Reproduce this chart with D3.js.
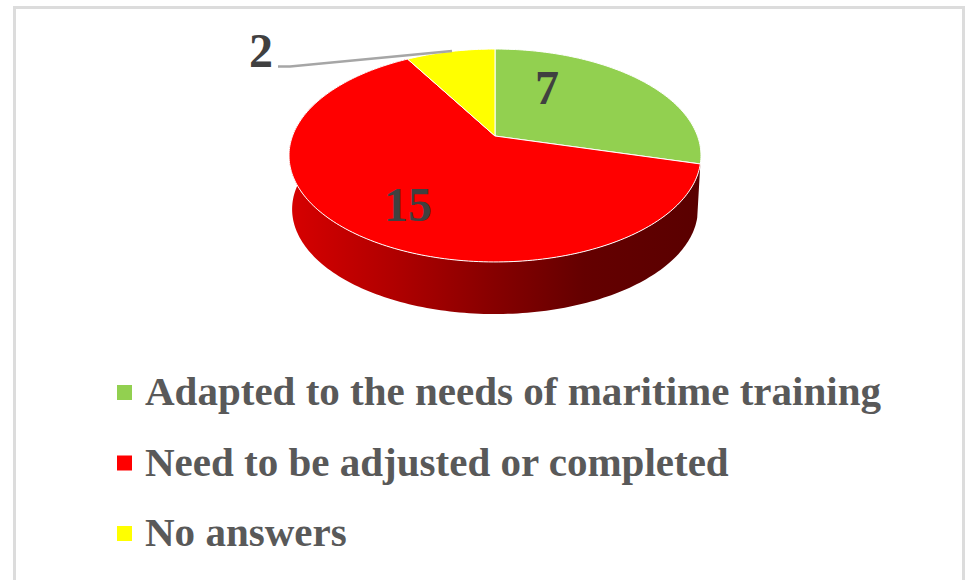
<!DOCTYPE html>
<html>
<head>
<meta charset="utf-8">
<script src="https://cdn.jsdelivr.net/npm/d3@7"></script>
<style>
  html, body { margin: 0; padding: 0; background: #fff; }
  svg { display: block; }
  text { font-family: "Liberation Serif", serif; font-weight: bold; }
</style>
</head>
<body>
<div id="chart"></div>
<script>
// Data
const categories = [
  "Adapted to the needs of maritime training",
  "Need to be adjusted or completed",
  "No answers",
];
const values = [7, 15, 2];
const colors = ["#92d050", "#ff0000", "#ffff00"];

const svgWidth = 965;
const svgHeight = 580;

// Pie in perspective: apex is not at the middle of the ellipse
const cx = 495;
const cy = 136;
const radiusX = 202.5;
const radiusY = 102.9;
const tilt = 0.183;
const depth = 54;
const bottomScale = 0.985;

const svg = d3
  .select("#chart")
  .append("svg")
  .attr("width", svgWidth)
  .attr("height", svgHeight);

// Frame, cut off by the bottom of the picture
svg
  .append("path")
  .attr("d", "M14.5,580V7.5H963.5V580")
  .attr("fill", "none")
  .attr("stroke", "#dcdcdc")
  .attr("stroke-width", 3);

// Angle clockwise from 12 o'clock -> point on the top face
function project(angle, r = 1) {
  const u = r * Math.sin(angle);
  const v = -r * Math.cos(angle);
  const w = 1 - tilt * v;
  return [cx + (radiusX * u) / w, cy + (radiusY * v) / w];
}

// Same angle on the lower rim
function projectBottom(angle) {
  const [x, y] = project(angle);
  return [cx + (x - cx) * bottomScale, cy + (y - cy) * bottomScale + depth];
}

function rim(a0, a1, fn) {
  const steps = Math.max(2, Math.ceil(Math.abs(a1 - a0) / 0.02));
  return d3.range(steps + 1).map((i) => fn(a0 + ((a1 - a0) * i) / steps));
}

const pie = d3.pie().sort(null);
const slices = pie(values);
const line = d3.line();

// Side wall gradient
const grad = svg
  .append("defs")
  .append("linearGradient")
  .attr("id", "wall")
  .attr("gradientUnits", "userSpaceOnUse")
  .attr("x1", cx - radiusX)
  .attr("x2", cx + radiusX)
  .attr("y1", 0)
  .attr("y2", 0);
grad.append("stop").attr("offset", "0").attr("stop-color", "#d60000");
grad.append("stop").attr("offset", "0.25").attr("stop-color", "#b00000");
grad.append("stop").attr("offset", "0.5").attr("stop-color", "#860000");
grad.append("stop").attr("offset", "0.72").attr("stop-color", "#640000");
grad.append("stop").attr("offset", "1").attr("stop-color", "#5a0000");

// Wall only for the slice that faces the viewer
svg
  .selectAll(".wall")
  .data(slices.filter((d) => Math.cos((d.startAngle + d.endAngle) / 2) < 0))
  .enter()
  .append("path")
  .attr("class", "wall")
  .attr("fill", "url(#wall)")
  .attr("d", (d) =>
    line(
      rim(d.startAngle, d.endAngle, project).concat(
        rim(d.endAngle, d.startAngle, projectBottom)
      )
    ) + "Z"
  );

// Top face
svg
  .selectAll(".slice")
  .data(slices)
  .enter()
  .append("path")
  .attr("class", "slice")
  .attr("fill", (d, i) => colors[i])
  .attr("stroke", "#fff")
  .attr("stroke-width", 1)
  .attr("stroke-linejoin", "round")
  .attr("d", (d) =>
    line([[cx, cy]].concat(rim(d.startAngle, d.endAngle, project))) + "Z"
  );

// Data labels
const labelPos = [
  [547, 104],
  [408, 221],
  [261, 67],
];

svg
  .selectAll(".label")
  .data(values)
  .enter()
  .append("text")
  .attr("class", "label")
  .attr("x", (d, i) => labelPos[i][0])
  .attr("y", (d, i) => labelPos[i][1])
  .attr("text-anchor", "middle")
  .attr("font-size", 48)
  .attr("fill", "#404040")
  .text((d) => d);

// Leader line for the small slice
svg
  .append("path")
  .attr("d", "M278,66.5L290,66.5L452,51")
  .attr("fill", "none")
  .attr("stroke", "#a6a6a6")
  .attr("stroke-width", 2.5);

// Legend
const legendY = d3
  .scalePoint()
  .domain(categories)
  .range([405, 546]);

const legend = svg
  .selectAll(".legend")
  .data(categories)
  .enter()
  .append("g")
  .attr("class", "legend")
  .attr("transform", (d) => `translate(0, ${legendY(d)})`);

legend
  .append("rect")
  .attr("x", 117)
  .attr("y", -20)
  .attr("width", 15)
  .attr("height", 15)
  .attr("fill", (d, i) => colors[i]);

// The original face runs wider than Liberation Serif, so stretch it a little
legend
  .append("text")
  .attr("transform", "translate(145, 0) scale(1.052, 1)")
  .attr("font-size", 39)
  .attr("fill", "#595959")
  .text((d) => d);
</script>
</body>
</html>
